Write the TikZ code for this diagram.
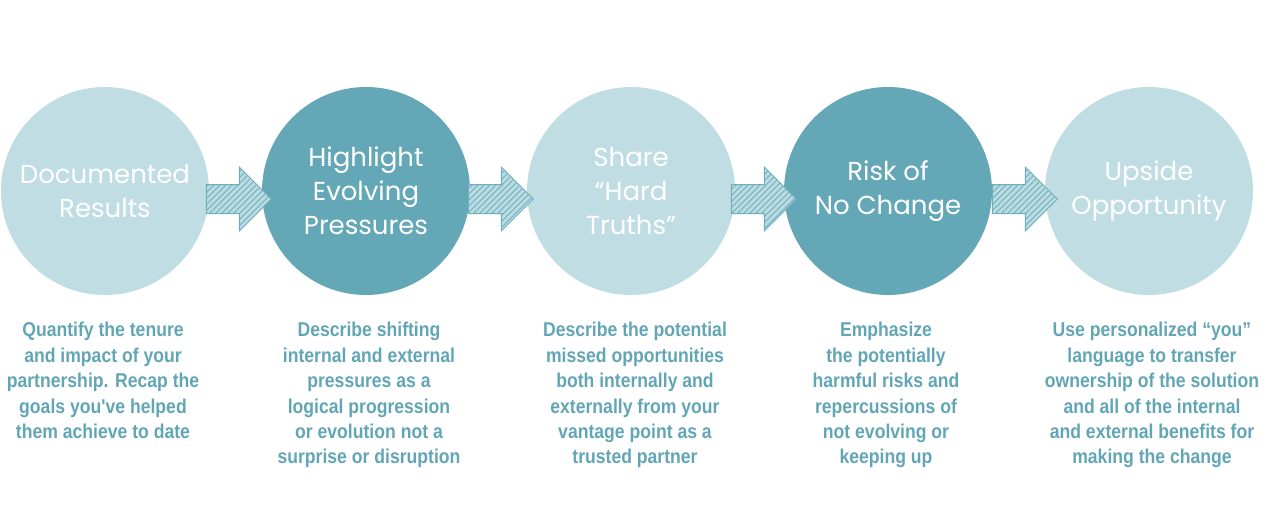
\documentclass[tikz,border=0pt]{standalone}
\usepackage{fontspec}
\usetikzlibrary{shapes, arrows, calc, patterns}
\newfontfamily\handfont{Poppins}
\newfontfamily\descfont[FakeStretch=0.88]{Liberation Sans}
\definecolor{lightteal}{RGB}{192,221,227}
\definecolor{darkteal}{RGB}{100,168,184}
\definecolor{textteal}{RGB}{98,166,182}
\definecolor{arrowfill}{RGB}{186,219,226}
\definecolor{arrowline}{RGB}{112,174,189}
\tikzset{
	every node/.style={inner sep=0pt},
	stage/.style={shape=circle,minimum size=104pt,text=white,align=center,font=\handfont\fontsize{13}{17}\selectfont},
	light-node/.style={stage,fill=lightteal},
	dark-node/.style={stage,fill=darkteal},
	desc/.style={anchor=north,text=textteal,align=center,font=\descfont\bfseries\fontsize{10}{12.7}\selectfont},
	flow/.style={shape=single arrow,inner xsep=0pt,inner ysep=7pt,minimum height=32.5pt,single arrow head extend=8.75pt,draw=arrowline,line width=0.5pt,fill=arrowfill,postaction={pattern=north east lines,pattern color=arrowline}},
}

\begin{document}
\begin{tikzpicture}[x=0.5pt,y=-0.5pt]
						\useasboundingbox (0,0) rectangle (1280,531);
						\node[light-node] (A) at (105,191) {Documented\\Results};
						\node[dark-node] (B) at (366,191) {Highlight\\Evolving\\Pressures};
						\node[light-node] (C) at (631,191) {Share\\“Hard\\Truths”};
						\node[dark-node] (D) at (888,191) {Risk of\\No Change};
						\node[light-node] (E) at (1149,191) {Upside\\Opportunity};
						
						\node[flow] (AB) at ($(A.east)!.5!(B.west)+(-4,8)$) {};
						\node[flow] (BC) at ($(B.east)!.5!(C.west)+(-5,8)$) {};
						\node[flow] (CD) at ($(C.east)!.5!(D.west)+(-3,8)$) {};
						\node[flow] (DE) at ($(D.east)!.5!(E.west)+(-1,8)$) {};
						
						\node[desc] (a) at (103,322) {Quantify the tenure\\and impact of your\\partnership. Recap the\\goals you've helped\\them achieve to date};
						\node[desc] (b) at (369,322) {Describe shifting\\internal and external\\pressures as a\\logical progression\\or evolution not a\\surprise or disruption};
						\node[desc] (c) at (635,322) {Describe the potential\\missed opportunities\\both internally and\\externally from your\\vantage point as a\\trusted partner};
						\node[desc] (d) at (886,322) {Emphasize\\the potentially\\harmful risks and\\repercussions of\\not evolving or\\keeping up};
						\node[desc] (e) at (1152,322) {Use personalized “you”\\language to transfer\\ownership of the solution\\and all of the internal\\and external benefits for\\making the change};
					\end{tikzpicture}
\end{document}
